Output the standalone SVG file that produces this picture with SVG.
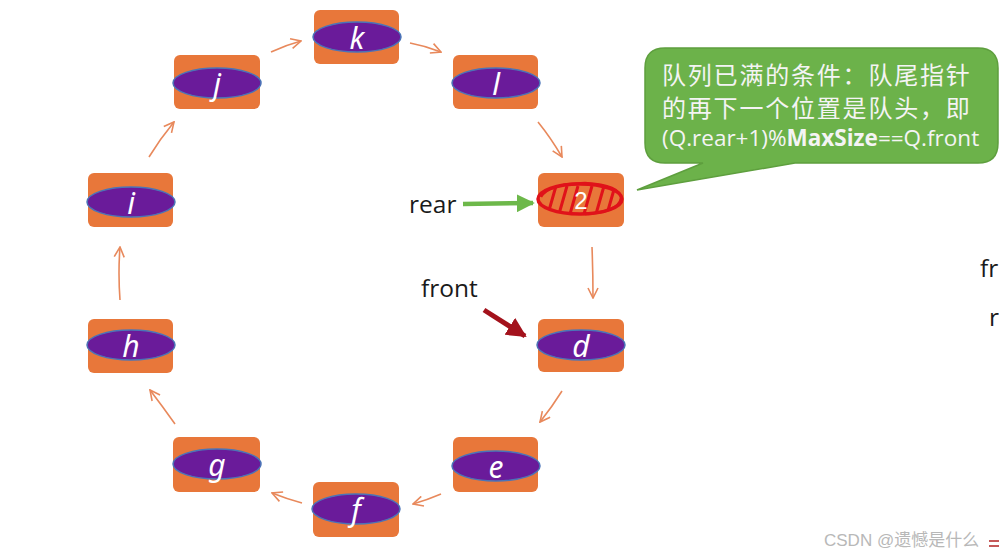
<svg xmlns="http://www.w3.org/2000/svg" width="999" height="557" viewBox="0 0 999 557">
<style>
.box{fill:#E8773A;}
.ell{fill:#6A1B9A;stroke:#4A74B8;stroke-width:1.5;}
.lbl{font-family:"Noto Sans","Liberation Sans",sans-serif;font-style:italic;font-size:30px;fill:#FFFFFF;text-anchor:middle;}
.conn{fill:none;stroke:#E8895C;stroke-width:1.6;marker-end:url(#oa);}
.ptr{font-family:"Open Sans","Liberation Sans",sans-serif;font-size:24.5px;fill:#1A1A1A;}
.cjk{font-family:"Noto Sans CJK SC","Noto Sans",sans-serif;font-size:24px;letter-spacing:1.8px;fill:#F4F4F4;}
.formula{font-family:"Open Sans","Liberation Sans",sans-serif;font-size:22.5px;fill:#F4F4F4;}
</style>
<defs>
<marker id="oa" viewBox="0 0 12 12" refX="11" refY="6" markerWidth="12" markerHeight="12" markerUnits="userSpaceOnUse" orient="auto">
<path d="M1,1 L11,6 L1,11" fill="none" stroke="#E8895C" stroke-width="1.6"/>
</marker>
<marker id="ga" viewBox="0 0 10 10" refX="9" refY="5" markerWidth="4" markerHeight="4" orient="auto">
<path d="M0,0 L10,5 L0,10 z" fill="#6DB84A"/>
</marker>
<marker id="ra" viewBox="0 0 10 10" refX="9" refY="5" markerWidth="4" markerHeight="4" orient="auto">
<path d="M0,0 L10,5 L0,10 z" fill="#A3121C"/>
</marker>
<clipPath id="cp2"><ellipse cx="580" cy="199" rx="42" ry="15"/></clipPath>
</defs>

<g id="connectors">
<path class="conn" d="M271,52 Q286,45 301,41"/>
<path class="conn" d="M410,43 Q426,46 441,52"/>
<path class="conn" d="M538,122 Q551,138 562,157"/>
<path class="conn" d="M592,247 Q593,272 593,298"/>
<path class="conn" d="M562,391 Q552,407 540,422"/>
<path class="conn" d="M441,494 Q427,500 413,504"/>
<path class="conn" d="M302,503 Q287,499 272,493"/>
<path class="conn" d="M175,424 Q163,407 150,390"/>
<path class="conn" d="M120,300 Q118,273 120,247"/>
<path class="conn" d="M149,157 Q160,139 174,122"/>
</g>

<g id="node-k"><rect class="box" x="314" y="10" width="85" height="54" rx="6"/><ellipse class="ell" cx="357" cy="37" rx="44" ry="15"/><text class="lbl" x="357" y="49">k</text></g>
<g id="node-l"><rect class="box" x="453" y="55" width="85" height="54" rx="6"/><ellipse class="ell" cx="496" cy="83" rx="44" ry="15"/><text class="lbl" x="496" y="95">l</text></g>
<g id="node-j"><rect class="box" x="174" y="55" width="86" height="54" rx="6"/><ellipse class="ell" cx="217" cy="83" rx="44" ry="15"/><text class="lbl" x="217" y="95">j</text></g>
<g id="node-i"><rect class="box" x="88" y="173" width="85" height="54" rx="6"/><ellipse class="ell" cx="131" cy="202" rx="44" ry="15"/><text class="lbl" x="131" y="214">i</text></g>
<g id="node-h"><rect class="box" x="88" y="319" width="85" height="54" rx="6"/><ellipse class="ell" cx="131" cy="345" rx="44" ry="15"/><text class="lbl" x="131" y="357">h</text></g>
<g id="node-g"><rect class="box" x="173" y="437" width="87" height="55" rx="6"/><ellipse class="ell" cx="217" cy="464" rx="44" ry="15"/><text class="lbl" x="217" y="476">g</text></g>
<g id="node-f"><rect class="box" x="313" y="482" width="86" height="55" rx="6"/><ellipse class="ell" cx="356" cy="509" rx="44" ry="15"/><text class="lbl" x="356" y="521">f</text></g>
<g id="node-e"><rect class="box" x="453" y="437" width="85" height="55" rx="6"/><ellipse class="ell" cx="496" cy="466" rx="44" ry="15"/><text class="lbl" x="496" y="478">e</text></g>
<g id="node-d"><rect class="box" x="538" y="319" width="86" height="53" rx="6"/><ellipse class="ell" cx="581" cy="345" rx="44" ry="15"/><text class="lbl" x="581" y="357">d</text></g>

<g id="node-2">
<rect class="box" x="538" y="173" width="86" height="54" rx="6"/>
<g clip-path="url(#cp2)" stroke="#E0121A" stroke-width="3" fill="none">
<path d="M548,214 L556,186 M559,214 L567,186 M570,214 L578,186 M584,214 L592,186 M596,214 L604,186 M607,214 L615,186"/>
</g>
<ellipse cx="580" cy="199" rx="42" ry="15" fill="none" stroke="#E0121A" stroke-width="3.5"/>
<path d="M541,197 Q548,184 585,183 Q620,185 621,198 Q619,212 585,214" fill="none" stroke="#E0121A" stroke-width="2.5"/>
<text x="581" y="209" font-family="Liberation Sans, sans-serif" font-size="24" fill="#FFFFFF" text-anchor="middle">2</text>
</g>

<g id="pointer-rear">
<text class="ptr" x="409" y="213">rear</text>
<line x1="463" y1="204" x2="533" y2="203" stroke="#6DB84A" stroke-width="4.5" marker-end="url(#ga)"/>
</g>
<g id="pointer-front">
<text class="ptr" x="421" y="297">front</text>
<line x1="484" y1="310" x2="525" y2="336" stroke="#A3121C" stroke-width="5" marker-end="url(#ra)"/>
</g>

<g id="callout">
<path d="M665,48 L978,48 Q998,48 998,68 L998,143 Q998,163 978,163 L795,163 L637,190 L703,163 L665,163 Q645,163 645,143 L645,68 Q645,48 665,48 Z" fill="#6CB24A" stroke="#5E9F3E" stroke-width="1.5"/>
<text class="cjk" x="662" y="84">队列已满的条件：队尾指针</text>
<text class="cjk" x="662" y="117">的再下一个位置是队头，即</text>
<text class="formula" x="662" y="146">(Q.rear+1)%<tspan font-weight="bold">MaxSize</tspan>==Q.front</text>
</g>

<g id="edge-fragments">
<text class="ptr" x="980" y="277">fr</text>
<text class="ptr" x="989" y="326">r</text>
<line x1="989" y1="541" x2="999" y2="541" stroke="#B22222" stroke-width="1.5"/>
<line x1="989" y1="546" x2="999" y2="546" stroke="#B22222" stroke-width="1.5"/>
</g>
<text x="824" y="546" font-family="Liberation Sans, Noto Sans CJK SC, sans-serif" font-size="17" fill="#B8B8B8">CSDN @遗憾是什么</text>
</svg>
